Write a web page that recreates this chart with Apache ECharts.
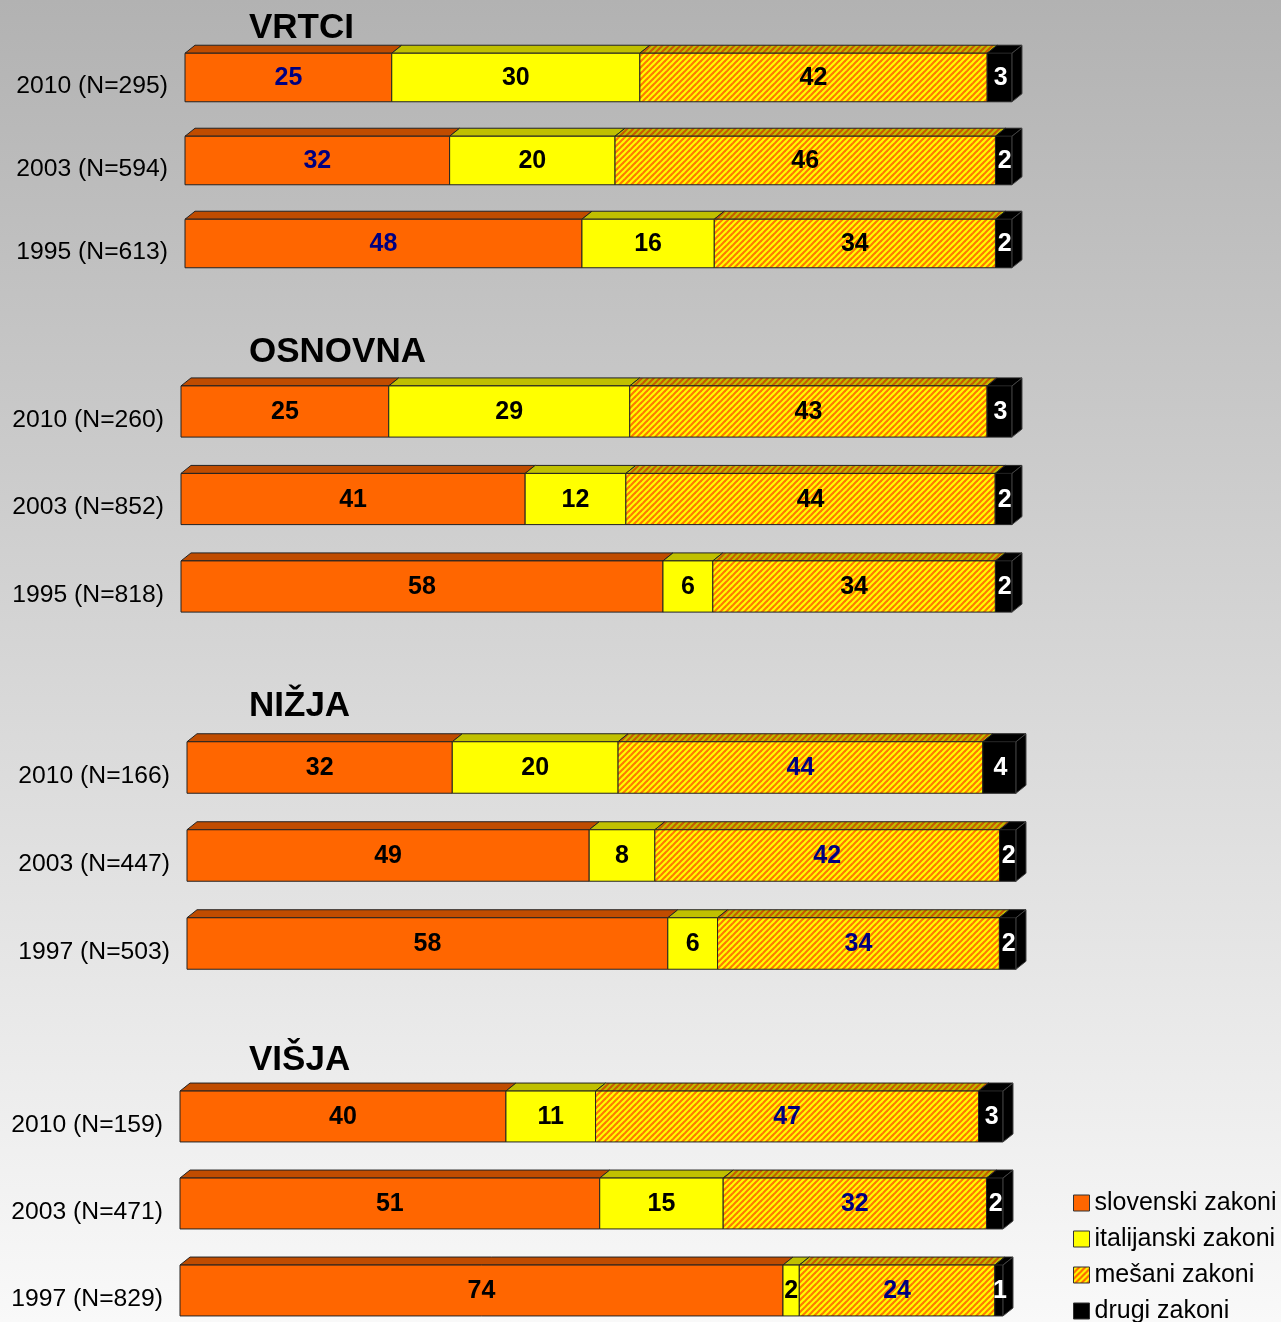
<!DOCTYPE html>
<html>
<head>
<meta charset="utf-8">
<script src="https://cdn.jsdelivr.net/npm/echarts@6/dist/echarts.min.js"></script>
<style>
  html, body { margin: 0; padding: 0; }
  #chart {
    width: 1281px; height: 1322px;
    background: linear-gradient(to bottom, #b2b2b2 0%, #d6d6d6 50%, #f9f9f9 100%);
  }
</style>
</head>
<body>
<div id="chart"></div>
<script>
// Survey groups and their rows (top to bottom within each group)
const groupTitles = ['VRTCI', 'OSNOVNA', 'NIŽJA', 'VIŠJA'];
const rowLabels = [
  ['2010 (N=295)', '2003 (N=594)', '1995 (N=613)'],
  ['2010 (N=260)', '2003 (N=852)', '1995 (N=818)'],
  ['2010 (N=166)', '2003 (N=447)', '1997 (N=503)'],
  ['2010 (N=159)', '2003 (N=471)', '1997 (N=829)']
];
const seriesNames = ['slovenski zakoni', 'italijanski zakoni', 'mešani zakoni', 'drugi zakoni'];

// Percentages per group, per row
const slovenski   = [[25, 32, 48], [25, 41, 58], [32, 49, 58], [40, 51, 74]];
const italijanski = [[30, 20, 16], [29, 12,  6], [20,  8,  6], [11, 15,  2]];
const mesani      = [[42, 46, 34], [43, 44, 34], [44, 42, 34], [47, 32, 24]];
const drugi       = [[ 3,  2,  2], [ 3,  2,  2], [ 4,  2,  2], [ 3,  2,  1]];
const seriesValues = [slovenski, italijanski, mesani, drugi];

// ---- layout and style ----
const FONT = '"Liberation Sans", Arial, sans-serif';
// grid spans from the first row's label centre to the last row's
const grids = [
  { left: 185, top: 86,   width: 827, height: 166 },
  { left: 181, top: 420,  width: 831, height: 175 },
  { left: 187, top: 776,  width: 829, height: 176 },
  { left: 180, top: 1125, width: 823, height: 174 }
];
const titleY = [27, 351, 705, 1059];
const legendY = [1201, 1237, 1273, 1309];
const navySeriesInGroup = [0, -1, 2, 2]; // series whose value labels are navy
const DX = 10, DY = 8, BAR_RATIO = 0.585, BAR_SHIFT = 8.5;

function hatch(base, stripe) {
  const p = 6;
  const c = document.createElement('canvas');
  c.width = p; c.height = p;
  const ctx = c.getContext('2d');
  ctx.fillStyle = base;
  ctx.fillRect(0, 0, p, p);
  ctx.strokeStyle = stripe;
  ctx.lineWidth = 2.2;
  for (let k = -1; k <= 1; k++) {
    ctx.beginPath();
    ctx.moveTo(k * p - 1, p + 1);
    ctx.lineTo(k * p + p + 1, -1);
    ctx.stroke();
  }
  return { image: c, repeat: 'repeat' };
}

const frontFill = ['#ff6600', '#ffff00', hatch('#ffff00', '#ff7a00'), '#000000'];
const topFill   = ['#c04c00', '#c0c000', hatch('#c0c000', '#c85a00'), '#000000'];
const legendFill = ['#ff6600', '#ffff00', hatch('#ffff00', '#ff6600'), '#000000'];
const EDGE = '#222222';

function makeRender(sIdx, gIdx) {
  const isLast = sIdx === seriesNames.length - 1;
  return function (params, api) {
    const row = api.value(0);
    const p0 = api.coord([api.value(1), row]);
    const p1 = api.coord([api.value(2), row]);
    const h = api.size([0, 1])[1] * BAR_RATIO;
    const yTop = p0[1] - BAR_SHIFT - h / 2;
    const yBot = yTop + h;
    const l = p0[0], r = p1[0];
    const children = [
      {
        type: 'polygon',
        shape: { points: [[l, yTop], [l + DX, yTop - DY], [r + DX, yTop - DY], [r, yTop]] },
        style: { fill: topFill[sIdx], stroke: EDGE, lineWidth: 1 }
      },
      {
        type: 'rect',
        shape: { x: l, y: yTop, width: r - l, height: h },
        style: { fill: frontFill[sIdx], stroke: EDGE, lineWidth: 1 }
      }
    ];
    if (isLast) {
      children.push({
        type: 'polygon',
        shape: { points: [[r, yTop], [r + DX, yTop - DY], [r + DX, yBot - DY], [r, yBot]] },
        style: { fill: '#000000', stroke: '#444444', lineWidth: 1 }
      });
    }
    let color = '#000000';
    if (isLast) color = '#ffffff';
    else if (navySeriesInGroup[gIdx] === sIdx) color = '#000080';
    children.push({
      type: 'text',
      x: (l + r) / 2 + (isLast ? 1 : 0),
      y: yTop + h / 2 + 1,
      style: {
        text: String(api.value(3)),
        font: 'bold 25px ' + FONT,
        fill: color,
        align: 'center', verticalAlign: 'middle',
        textAlign: 'center', textVerticalAlign: 'middle'
      }
    });
    return { type: 'group', children: children };
  };
}

// Build per-group data: 100%-stacked segments [row, start, end, value]
const series = [];
groupTitles.forEach(function (_, g) {
  const totals = rowLabels[g].map(function (_, r) {
    return seriesValues.reduce(function (s, arr) { return s + arr[g][r]; }, 0);
  });
  const cum = rowLabels[g].map(function () { return 0; });
  seriesNames.forEach(function (name, s) {
    const data = rowLabels[g].map(function (_, r) {
      const v = seriesValues[s][g][r];
      const start = cum[r] / totals[r] * 100;
      cum[r] += v;
      const end = cum[r] / totals[r] * 100;
      return [r, start, end, v];
    });
    series.push({
      type: 'custom',
      name: name,
      xAxisIndex: g,
      yAxisIndex: g,
      clip: false,
      itemStyle: { color: legendFill[s], borderColor: EDGE, borderWidth: 1 },
      encode: { x: [1, 2], y: 0 },
      renderItem: makeRender(s, g),
      data: data
    });
  });
});

const option = {
  animation: false,
  backgroundColor: 'transparent',
  textStyle: { fontFamily: FONT },
  title: groupTitles.map(function (t, g) {
    return {
      text: t, left: 249, top: titleY[g] - 18, padding: 0,
      textStyle: { fontSize: 35, fontWeight: 'bold', color: '#000', fontFamily: FONT, lineHeight: 38 }
    };
  }),
  // one legend block per entry so each row sits at its own height
  legend: seriesNames.map(function (n, s) {
    return {
      orient: 'vertical',
      left: 1073,
      top: legendY[s] - 11,
      padding: 0,
      itemWidth: 16,
      itemHeight: 16,
      icon: 'rect',
      selectedMode: false,
      textStyle: { fontSize: 25, color: '#000', fontFamily: FONT, lineHeight: 26, padding: [0, 0, 0, 0] },
      data: [{ name: n, itemStyle: { color: legendFill[s], borderColor: '#333', borderWidth: 1 } }]
    };
  }),
  grid: grids.map(function (gr) {
    return { left: gr.left, top: gr.top, width: gr.width, height: gr.height, containLabel: false };
  }),
  xAxis: grids.map(function (_, g) {
    return { type: 'value', gridIndex: g, min: 0, max: 100, show: false };
  }),
  yAxis: grids.map(function (_, g) {
    return {
      type: 'category', gridIndex: g, inverse: true, boundaryGap: false,
      data: rowLabels[g],
      axisLine: { show: false }, axisTick: { show: false }, splitLine: { show: false },
      axisLabel: { fontSize: 24.7, color: '#000', fontFamily: FONT, margin: 17 }
    };
  }),
  series: series
};

const chart = echarts.init(document.getElementById('chart'), null, { renderer: 'canvas' });
chart.setOption(option);
</script>
</body>
</html>
